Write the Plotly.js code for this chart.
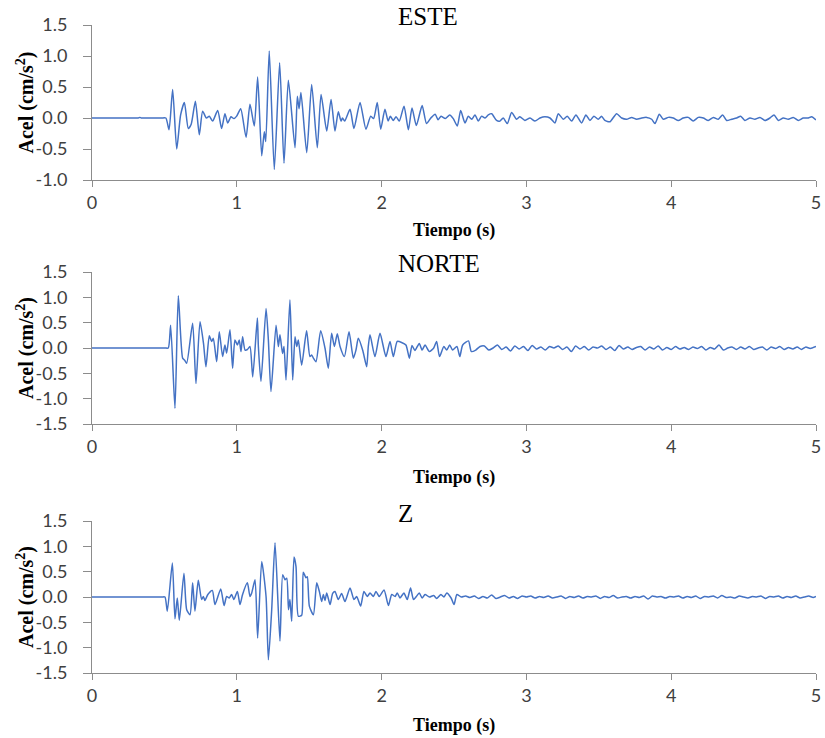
<!DOCTYPE html>
<html><head><meta charset="utf-8">
<script src="https://cdn.plot.ly/plotly-3.0.1.min.js"></script>
<style>html,body{margin:0;padding:0;background:#fff}</style>
</head><body><div id="chart" style="width:825px;height:738px"></div>
<script>
const panelTitles = ['ESTE', 'NORTE', 'Z'];
const xTitle = 'Tiempo (s)';
const yTitle = 'Acel (cm/s<sup>2</sup>)';
const xTickVals = [0, 1, 2, 3, 4, 5];
const yTickValsTop = [-1, -0.5, 0, 0.5, 1, 1.5];
const yTickTextTop = ['-1.0', '-0.5', '0.0', '0.5', '1.0', '1.5'];
const yTickValsLow = [-1.5, -1, -0.5, 0, 0.5, 1, 1.5];
const yTickTextLow = ['-1.5', '-1.0', '-0.5', '0.0', '0.5', '1.0', '1.5'];

// [time (s), acceleration (cm/s2)]
const esteSamples = [
[0,0],[0.05,0],[0.30,0],[0.32,0],[0.33,0.01],[0.34,0],[0.36,0],[0.48,0],[0.51,0],[0.532,-0.19],[0.557,0.46],[0.585,-0.50],[0.612,0.05],[0.638,0.25],
[0.665,-0.17],[0.685,-0.10],[0.714,0.27],[0.741,-0.27],[0.764,0.11],[0.79,0.0],[0.81,0.03],[0.833,-0.05],[0.868,0.12],[0.895,-0.17],
[0.918,0.07],[0.937,-0.08],[0.960,0.02],[0.98,-0.01],[0.999,0.03],[1.027,0.15],[1.064,-0.31],[1.091,0.22],[1.121,-0.13],[1.144,0.66],
[1.172,-0.61],[1.19,-0.22],[1.20,-0.38],[1.224,1.08],[1.259,-0.83],[1.296,0.89],[1.326,-0.73],[1.356,0.61],[1.402,-0.48],[1.418,0.35],
[1.430,0.15],[1.443,0.41],[1.483,-0.56],[1.517,0.54],[1.556,-0.48],[1.582,0.38],[1.621,-0.21],[1.651,0.30],[1.678,-0.21],[1.701,0.10],
[1.72,-0.05],[1.73,0.0],[1.745,-0.05],[1.782,0.14],[1.809,-0.17],[1.851,0.25],[1.892,-0.18],[1.925,0.03],[1.945,-0.01],[1.970,0.25],
[1.994,-0.18],[2.023,0.14],[2.045,-0.05],[2.06,0.03],[2.08,-0.04],[2.10,0.02],[2.122,-0.05],[2.155,0.19],[2.185,-0.19],[2.21,0.16],
[2.24,-0.12],[2.28,0.20],[2.31,-0.09],[2.34,0.0],[2.37,0.06],[2.39,-0.03],[2.41,0.03],[2.44,-0.01],[2.47,0.05],[2.495,-0.01],
[2.523,-0.13],[2.546,0.12],[2.576,-0.08],[2.599,0.03],[2.622,-0.02],[2.645,0.05],[2.668,-0.05],[2.691,0.03],[2.714,0.0],[2.737,0.05],
[2.760,0.07],[2.794,-0.04],[2.817,-0.05],[2.840,0.0],[2.868,-0.09],[2.898,0.09],[2.932,-0.02],[2.955,0.02],[2.990,-0.04],[3.025,0.0],
[3.059,-0.05],[3.094,0.0],[3.128,0.02],[3.163,0.0],[3.197,-0.08],[3.220,0.07],[3.255,-0.02],[3.282,0.03],[3.312,-0.05],[3.342,0.05],
[3.381,-0.08],[3.411,0.05],[3.439,-0.04],[3.466,0.03],[3.496,-0.02],[3.519,0.03],[3.542,-0.04],[3.577,-0.06],[3.623,0.07],[3.658,0.0],
[3.692,-0.02],[3.727,0.01],[3.761,-0.02],[3.796,0.0],[3.830,0.01],[3.865,-0.02],[3.888,-0.09],[3.918,0.06],[3.945,-0.02],[3.980,0.01],
[4.014,0.0],[4.049,-0.04],[4.083,0.0],[4.118,0.01],[4.152,-0.05],[4.187,0.01],[4.222,0.0],[4.256,-0.04],[4.291,0.01],[4.325,-0.02],
[4.355,0.05],[4.383,-0.04],[4.417,-0.02],[4.452,0.0],[4.480,0.03],[4.509,-0.04],[4.544,0.0],[4.578,-0.02],[4.613,0.01],[4.647,-0.04],
[4.682,0.0],[4.710,0.05],[4.740,-0.04],[4.774,0.0],[4.809,-0.02],[4.843,0.01],[4.878,-0.04],[4.912,0.0],[4.947,0.0],[4.970,0.02],[5.0,-0.03]
];

const norteSamples = [
[0,0],[0.05,0],[0.48,0],[0.505,0],[0.527,0],[0.543,0.45],[0.573,-1.19],[0.596,1.03],[0.626,-0.20],[0.64,-0.24],[0.654,-0.30],[0.695,0.49],[0.718,-0.70],
[0.746,0.52],[0.77,0.09],[0.787,-0.37],[0.810,0.24],[0.826,0.13],[0.838,0.19],[0.861,-0.27],[0.879,0.32],[0.902,-0.17],[0.918,0.06],
[0.930,-0.10],[0.953,0.36],[0.971,-0.40],[0.987,0.16],[1.004,0.06],[1.017,0.16],[1.029,-0.07],[1.040,0.22],[1.057,-0.04],[1.073,-0.03],
[1.091,0.03],[1.110,-0.57],[1.142,0.59],[1.149,0.03],[1.167,-0.66],[1.202,0.78],[1.218,0.16],[1.236,-0.86],[1.271,0.45],[1.287,0.03],
[1.298,0.26],[1.316,-0.11],[1.326,0.03],[1.340,-0.63],[1.367,0.95],[1.386,-0.63],[1.402,0.22],[1.414,0.03],[1.425,0.16],[1.448,-0.34],
[1.482,0.34],[1.505,-0.17],[1.517,-0.14],[1.529,-0.20],[1.547,-0.27],[1.579,0.34],[1.609,0.0],[1.632,-0.40],[1.655,0.29],[1.674,0.03],
[1.694,0.28],[1.713,0.03],[1.743,-0.17],[1.775,0.32],[1.805,-0.20],[1.823,-0.04],[1.839,0.19],[1.87,-0.05],[1.897,-0.37],[1.908,0.03],
[1.920,0.26],[1.954,-0.17],[1.989,0.29],[2.030,-0.17],[2.058,0.13],[2.081,-0.17],[2.108,0.13],[2.138,0.11],[2.168,0.06],[2.192,-0.20],
[2.21,0.05],[2.23,-0.05],[2.26,0.09],[2.28,-0.04],[2.30,0.06],[2.33,-0.07],[2.36,0.0],[2.38,0.13],[2.40,-0.17],[2.43,0.03],
[2.45,-0.04],[2.47,0.06],[2.49,-0.04],[2.52,0.03],[2.54,-0.17],[2.56,0.06],[2.60,0.14],[2.62,-0.07],[2.65,-0.04],[2.68,0.03],
[2.71,0.04],[2.74,-0.04],[2.77,0.0],[2.80,0.06],[2.83,-0.03],[2.86,0.02],[2.89,-0.06],[2.92,0.04],[2.95,-0.02],[2.98,0.03],
[3.01,-0.05],[3.04,0.05],[3.07,-0.02],[3.10,0.02],[3.13,-0.04],[3.16,0.03],[3.19,0.0],[3.22,0.04],[3.25,-0.03],[3.28,0.02],
[3.31,-0.07],[3.34,0.04],[3.37,-0.02],[3.40,0.03],[3.43,-0.04],[3.46,0.02],[3.49,0.0],[3.52,0.04],[3.55,-0.03],[3.58,0.02],
[3.61,-0.05],[3.64,0.05],[3.67,-0.02],[3.70,0.02],[3.73,-0.03],[3.76,0.01],[3.79,0.03],[3.82,-0.04],[3.85,0.02],[3.88,-0.02],
[3.91,0.04],[3.94,-0.04],[3.97,0.01],[4.00,-0.03],[4.03,0.03],[4.06,-0.02],[4.09,0.01],[4.12,-0.03],[4.15,0.02],[4.18,-0.01],
[4.21,0.03],[4.24,-0.04],[4.27,0.01],[4.30,-0.02],[4.33,0.06],[4.36,-0.04],[4.39,0.0],[4.42,0.02],[4.45,-0.03],[4.48,0.02],
[4.51,-0.02],[4.54,0.03],[4.57,-0.03],[4.60,0.0],[4.63,0.02],[4.66,-0.04],[4.69,0.02],[4.72,-0.01],[4.75,0.03],[4.78,-0.03],
[4.81,0.01],[4.84,-0.02],[4.87,0.02],[4.90,-0.03],[4.93,0.02],[4.96,-0.01],[5.0,0.03]
];

const zSamples = [
[0,0],[0.05,0],[0.46,0],[0.485,0],[0.504,0],[0.52,-0.28],[0.555,0.67],[0.573,-0.43],[0.589,-0.02],[0.603,-0.46],[0.635,0.47],[0.654,-0.25],[0.677,-0.35],
[0.695,0.28],[0.711,-0.28],[0.734,0.33],[0.757,-0.05],[0.769,0.01],[0.780,-0.07],[0.80,0.05],[0.831,0.13],[0.849,-0.15],[0.889,0.16],
[0.912,-0.17],[0.930,0.01],[0.948,-0.02],[0.964,0.05],[0.980,-0.05],[1.004,0.11],[1.022,-0.15],[1.040,0.05],[1.073,0.28],[1.091,0.01],
[1.103,0.08],[1.126,0.34],[1.144,-0.81],[1.172,0.70],[1.202,0.01],[1.218,-1.24],[1.241,-0.25],[1.264,1.07],[1.298,-0.87],[1.317,0.44],
[1.333,0.34],[1.345,0.37],[1.357,-0.25],[1.367,-0.05],[1.379,-0.48],[1.395,0.79],[1.409,0.60],[1.425,-0.38],[1.448,-0.36],[1.459,0.49],
[1.478,0.38],[1.487,0.40],[1.501,-0.18],[1.529,-0.35],[1.552,0.28],[1.570,0.11],[1.586,-0.09],[1.598,0.05],[1.609,-0.07],[1.621,0.08],
[1.644,-0.15],[1.662,0.07],[1.678,0.11],[1.701,-0.05],[1.724,0.07],[1.747,-0.09],[1.782,0.18],[1.809,-0.05],[1.828,0.01],[1.855,-0.18],
[1.878,0.11],[1.901,0.01],[1.920,0.08],[1.943,0.01],[1.961,0.11],[1.984,0.01],[2.017,0.14],[2.047,-0.17],[2.070,0.05],[2.093,0.01],
[2.108,0.08],[2.127,-0.02],[2.154,0.08],[2.177,-0.05],[2.20,0.18],[2.22,-0.05],[2.24,0.01],[2.26,0.08],[2.28,-0.02],[2.30,0.05],
[2.33,0.0],[2.36,0.03],[2.38,-0.03],[2.41,0.05],[2.43,0.0],[2.45,0.08],[2.48,-0.02],[2.50,-0.15],[2.52,0.05],[2.55,0.0],
[2.58,0.02],[2.61,-0.01],[2.64,0.02],[2.67,-0.03],[2.70,0.01],[2.73,-0.02],[2.76,0.04],[2.79,-0.03],[2.82,0.0],[2.85,0.03],
[2.88,-0.02],[2.91,0.01],[2.94,-0.03],[2.97,0.02],[3.00,0.0],[3.03,0.02],[3.06,-0.02],[3.09,0.01],[3.12,-0.01],[3.15,0.02],
[3.18,-0.02],[3.21,0.0],[3.24,0.02],[3.27,-0.03],[3.30,0.01],[3.33,-0.01],[3.36,0.02],[3.39,-0.02],[3.42,0.01],[3.45,0.0],
[3.48,0.02],[3.51,-0.03],[3.54,0.01],[3.57,-0.01],[3.60,0.03],[3.63,-0.02],[3.66,0.0],[3.69,0.01],[3.72,-0.02],[3.75,0.01],
[3.78,-0.01],[3.81,0.02],[3.84,-0.04],[3.87,0.02],[3.90,0.0],[3.93,0.01],[3.96,-0.02],[3.99,0.01],[4.02,0.0],[4.05,0.02],
[4.08,-0.02],[4.11,0.01],[4.14,-0.01],[4.17,0.02],[4.20,-0.03],[4.23,0.01],[4.26,0.0],[4.29,0.02],[4.32,-0.02],[4.35,0.03],
[4.38,-0.01],[4.41,0.0],[4.44,-0.02],[4.47,0.02],[4.50,0.0],[4.53,-0.02],[4.56,0.01],[4.59,0.0],[4.62,0.02],[4.65,-0.03],
[4.68,0.01],[4.71,0.0],[4.74,0.02],[4.77,-0.02],[4.80,0.01],[4.83,-0.01],[4.86,0.02],[4.89,-0.02],[4.92,0.0],[4.95,0.02],
[4.98,-0.01],[5.0,0.01]
];

const seriesList = [esteSamples, norteSamples, zSamples];
const yRanges = [[-1, 1.5], [-1.5, 1.5], [-1.5, 1.5]];
const yTickVals = [yTickValsTop, yTickValsLow, yTickValsLow];
const yTickText = [yTickTextTop, yTickTextLow, yTickTextLow];

const W = 825, H = 738, L = 92, R = 9;
const plotW = W - L - R;
const py = p => 1 - p / H;
const px = p => (p - L) / plotW;
// panel pixel extents (top, bottom)
const panels = [[25, 180], [272, 424], [521, 673]];
const titleY = [17, 263, 513];
const xTitleY = [230, 477, 725];

const lineColor = '#4472C4';
const axisColor = '#8c8c8c';
const tickFont = {family: 'Lato, "Liberation Sans", sans-serif', size: 18, color: '#404040'};
const serif = '"Liberation Serif", "Times New Roman", serif';

const traces = seriesList.map((s, i) => ({
  type: 'scatter', mode: 'lines',
  x: s.map(d => d[0]), y: s.map(d => d[1]),
  xaxis: i === 0 ? 'x' : 'x' + (i + 1),
  yaxis: i === 0 ? 'y' : 'y' + (i + 1),
  line: {color: lineColor, width: 1.5, shape: 'spline', smoothing: 0.6},
  hoverinfo: 'skip'
}));

const layout = {
  width: W, height: H,
  margin: {l: L, r: R, t: 0, b: 0},
  paper_bgcolor: '#fff', plot_bgcolor: '#fff',
  showlegend: false, hovermode: false,
  annotations: []
};

panels.forEach((p, i) => {
  const sx = i === 0 ? '' : String(i + 1);
  layout['xaxis' + sx] = {
    domain: [0, 1], anchor: 'y' + sx, range: [0, 5],
    tickvals: xTickVals, ticks: 'outside', ticklen: 6, tickcolor: axisColor, tickwidth: 1,
    showline: true, linecolor: axisColor, linewidth: 1,
    showgrid: false, zeroline: false, tickfont: tickFont, fixedrange: true
  };
  layout['yaxis' + sx] = {
    domain: [py(p[1]), py(p[0])], anchor: 'x' + sx, range: yRanges[i],
    tickmode: 'array', tickvals: yTickVals[i], ticktext: yTickText[i],
    ticks: 'outside', ticklen: 8, tickcolor: axisColor, tickwidth: 1,
    ticklabelstandoff: 12,
    showline: true, linecolor: axisColor, linewidth: 1,
    showgrid: false, zeroline: false, tickfont: tickFont, fixedrange: true
  };
  layout.annotations.push({
    text: panelTitles[i], xref: 'paper', yref: 'paper', x: px(396), y: py(titleY[i]),
    xanchor: 'left', yanchor: 'middle', showarrow: false,
    font: {family: serif, size: 25, color: '#000'}
  });
  layout.annotations.push({
    text: '<b>' + xTitle + '</b>', xref: 'paper', yref: 'paper', x: 0.5, y: py(xTitleY[i]),
    xanchor: 'center', yanchor: 'middle', showarrow: false,
    font: {family: serif, size: 18, color: '#000'}
  });
  layout.annotations.push({
    text: '<b>' + yTitle + '</b>', xref: 'paper', yref: 'paper', x: px(25), y: py((p[0] + p[1]) / 2),
    xanchor: 'center', yanchor: 'middle', textangle: -90, showarrow: false,
    font: {family: serif, size: 20, color: '#000'}
  });
});

Plotly.newPlot('chart', traces, layout, {displayModeBar: false, staticPlot: true});
</script>
</body></html>
